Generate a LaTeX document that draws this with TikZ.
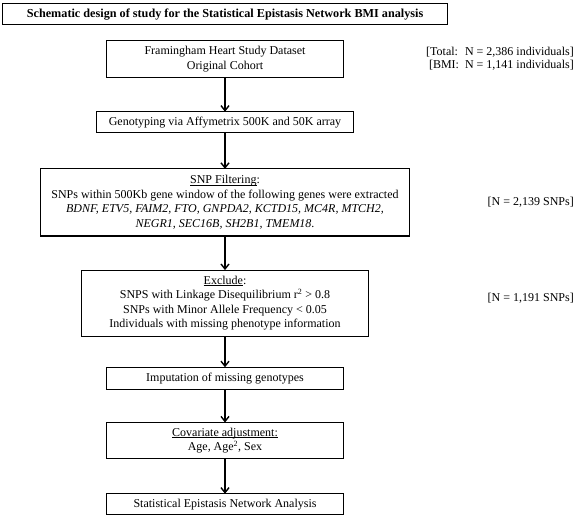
\documentclass[tikz,border=0pt]{standalone}
\usepackage{fontspec}
\setmainfont{Liberation Serif}
\usepackage{tikz}
\usetikzlibrary{positioning,arrows.meta}
\newcommand\ultext[1]{\setbox0\hbox{#1}\rlap{\rule[-1.6pt]{\wd0}{0.6pt}}\box0}
\tikzset{
    flow-box/.style = {draw=black, fill=white, line width=1.2pt, rectangle, align=center, inner sep=2pt,
        outer sep=0pt, font=\fontsize{12}{14.5}\selectfont},
    title-box/.style = {draw=black, line width=1.2pt, rectangle, align=center, inner sep=2pt, outer sep=0pt,
        font=\fontsize{12.2}{14}\selectfont\bfseries, minimum width=445pt, minimum height=21pt},
    side-note/.style = {align=right, inner sep=1pt, font=\fontsize{12}{13.5}\selectfont},
    flow-arrow/.style = {line width=1.4pt, -{Straight Barb[length=5pt, width=8pt, line width=1.4pt]}},
}

\begin{document}
\begin{tikzpicture}
\useasboundingbox (0,0) rectangle (576pt,-516pt);
\coordinate (right-edge) at (575pt,0);
\node[title-box, anchor=north west] (title) at (2.6pt,-3.6pt) {Schematic design of study for the Statistical Epistasis Network BMI analysis};

\node[flow-box, minimum width=237pt, minimum height=37pt] (cohort) at (225pt,-59pt)
    {Framingham Heart Study Dataset\\Original Cohort};
\node[flow-box, minimum width=257pt, minimum height=21pt, below=34.2pt of cohort] (genotyping)
    {Genotyping via Affymetrix 500K and 50K array};
\node[flow-box, minimum width=369pt, minimum height=67pt, below=36.2pt of genotyping] (filtering)
    {\ultext{SNP Filtering}:\\
     SNPs within 500Kb gene window of the following genes were extracted\\
     \textit{BDNF, ETV5, FAIM2, FTO, GNPDA2, KCTD15, MC4R, MTCH2,}\\
     \textit{NEGR1, SEC16B, SH2B1, TMEM18}.};
\node[flow-box, minimum width=287pt, minimum height=66pt, below=34.2pt of filtering] (exclude)
    {\ultext{Exclude}:\\
     SNPS with Linkage Disequilibrium r\textsuperscript{2} > 0.8\\
     SNPs with Minor Allele Frequency < 0.05\\
     Individuals with missing phenotype information};
\node[flow-box, minimum width=237pt, minimum height=22pt, below=31.2pt of exclude] (imputation)
    {Imputation of missing genotypes};
\node[flow-box, minimum width=237pt, minimum height=36pt, below=33.2pt of imputation] (covariate)
    {\ultext{Covariate adjustment:}\\Age, Age\textsuperscript{2}, Sex};
\node[flow-box, minimum width=237pt, minimum height=21pt, below=35.2pt of covariate] (sen)
    {Statistical Epistasis Network Analysis};

% sample sizes
\node[side-note, left] (n-total) at (cohort.east -| right-edge)
    {{[}Total:~ N = 2,386 individuals{]}\\{[}BMI:~ N = 1,141 individuals{]}};
\node[side-note, left] (n-filter) at (filtering.east -| right-edge) {{[}N = 2,139 SNPs{]}};
\node[side-note, left, yshift=5pt] (n-exclude) at (exclude.east -| right-edge) {{[}N = 1,191 SNPs{]}};

\foreach \src/\dst in {cohort/genotyping, genotyping/filtering, filtering/exclude,
                       exclude/imputation, imputation/covariate, covariate/sen}
    \draw[flow-arrow] (\src.south) -- (\dst.north);
\end{tikzpicture}
\end{document}
